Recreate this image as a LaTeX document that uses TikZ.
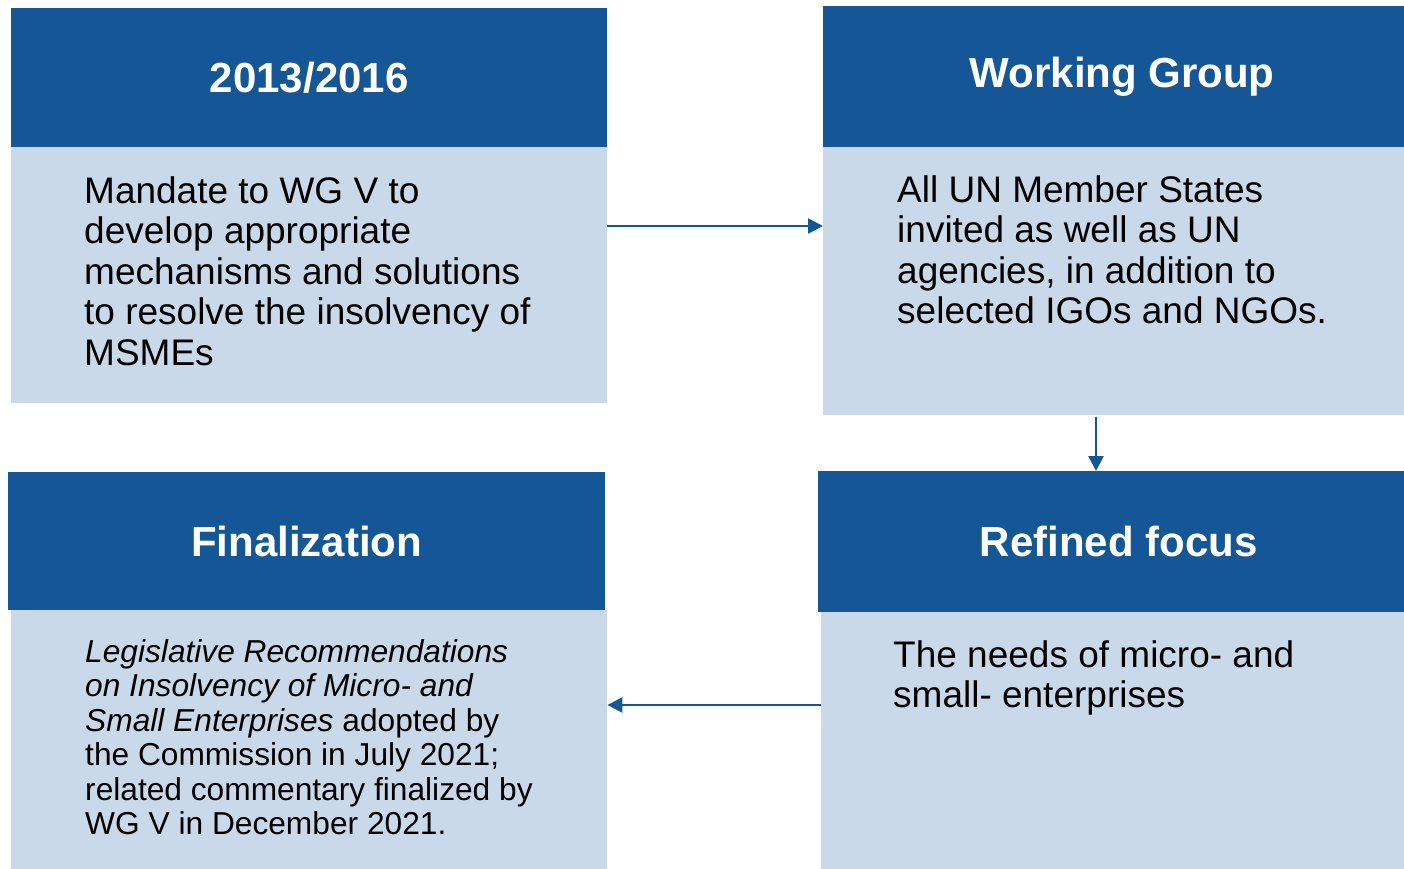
\documentclass[tikz,border=0pt]{standalone}
\usepackage{fontspec}
\setmainfont{Liberation Sans}
\usetikzlibrary{arrows.meta}
\definecolor{dblue}{HTML}{155796}
\definecolor{lblue}{HTML}{CAD9EA}
\tikzset{
  head/.style={fill=dblue, draw=none, text=white, inner sep=0pt, anchor=north west,
    font=\bfseries\fontsize{42}{48}\selectfont},
  body/.style={fill=lblue, draw=none, inner sep=0pt, anchor=north west},
  txt/.style={anchor=north west, inner sep=0pt, align=left, text=black,
    font=\fontsize{37}{40.5}\selectfont},
  txtsmall/.style={anchor=north west, inner sep=0pt, align=left, text=black,
    font=\fontsize{31.7}{34.5}\selectfont},
  arr/.style={draw=dblue, line width=2.5pt, -{Triangle[length=15pt,width=15pt]}}
}
\begin{document}
\begin{tikzpicture}[x=1pt,y=-1pt]
\useasboundingbox (0,0) rectangle (1404,868);
\clip (0,0) rectangle (1404,868);
% box 1
\node[body, minimum width=596, minimum height=256] (b1) at (11,147) {};
\node[head, minimum width=596, minimum height=139] (h1) at (11,8) {2013/2016};
\node[txt] (t1) at (84,176) {Mandate to WG V to\\develop appropriate\\mechanisms and solutions\\to resolve the insolvency of\\MSMEs};
% box 2
\node[body, minimum width=598, minimum height=268] (b2) at (823,147) {};
\node[head, minimum width=598, minimum height=141] (h2) at (823,6) {Working Group};
\node[txt] (t2) at (897,175) {All UN Member States\\invited as well as UN\\agencies, in addition to\\selected IGOs and NGOs.};
% box 3
\node[body, minimum width=596, minimum height=262] (b3) at (11,610) {};
\node[head, minimum width=597, minimum height=138] (h3) at (8,472) {Finalization};
\node[txtsmall] (t3) at (85,639) {\textit{Legislative Recommendations}\\\textit{on Insolvency of Micro- and}\\\textit{Small Enterprises} adopted by\\the Commission in July 2021;\\related commentary finalized by\\WG V in December 2021.};
% box 4
\node[body, minimum width=600, minimum height=260] (b4) at (821,612) {};
\node[head, minimum width=601, minimum height=141] (h4) at (818,471) {Refined focus};
\node[txt] (t4) at (893,640) {The needs of micro- and\\small- enterprises};
% arrows
\draw[arr] (b1.east |- 0,226) -- (b2.west |- 0,226);
\draw[arr] (b2.south -| 1096,0) ++(0,2) -- (h4.north -| 1096,0);
\draw[arr] (b4.west |- 0,705) -- (b3.east |- 0,705);
\end{tikzpicture}
\end{document}
